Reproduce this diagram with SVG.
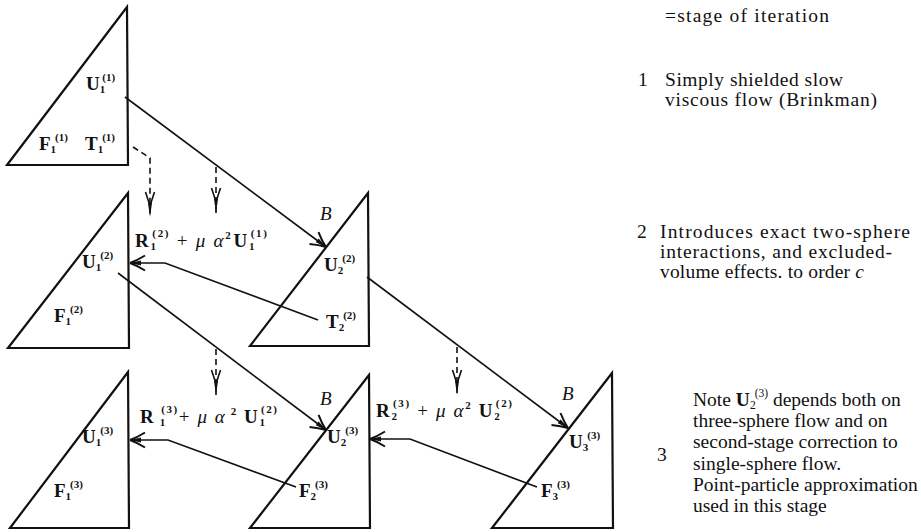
<svg xmlns="http://www.w3.org/2000/svg" width="921" height="532" viewBox="0 0 921 532">
<style>
.tri{fill:none;stroke:#111;stroke-width:2.2;stroke-linejoin:miter}
.ln{fill:none;stroke:#111;stroke-width:1.6}
.sol{marker-end:url(#ah)}
.dash{fill:none;stroke:#111;stroke-width:1.6;stroke-dasharray:6 4;marker-end:url(#dh)}
text{font-family:"Liberation Serif","Times New Roman",serif;fill:#111}
.v{font-weight:bold;font-size:19px}
.s{font-weight:bold;font-size:11px}
.n{font-weight:normal;font-size:19px}
.g{font-weight:normal;font-style:italic;font-size:19px}
.b{font-style:italic;font-size:19px}
.t{font-size:19.5px}
</style>
<defs>
<marker id="ah" viewBox="-17 -8 19 16" refX="0" refY="0" markerWidth="19" markerHeight="16" markerUnits="userSpaceOnUse" orient="auto" overflow="visible">
<path d="M0,0 Q-7,-2.5 -15,-7.5 M0,0 Q-7,2.5 -15,7.5" fill="none" stroke="#111" stroke-width="2"/>
<path d="M0,0 L-11,-2.4 L-11,2.4 Z" fill="#111"/>
</marker>
<marker id="dh" viewBox="-27 -6 29 12" refX="0" refY="0" markerWidth="29" markerHeight="12" markerUnits="userSpaceOnUse" orient="auto" overflow="visible">
<path d="M-25,-4.5 Q-15,-1.2 -11,0 M-25,4.5 Q-15,1.2 -11,0" fill="none" stroke="#111" stroke-width="1.6"/>
<path d="M0,0 L-14,-2 L-14,2 Z" fill="#111"/>
</marker>
</defs>

<g id="connectors">
<path class="ln sol" d="M125,97 L326,247"/>
<path class="ln sol" d="M318,320 L165,263 L130,263"/>
<path class="ln sol" d="M118,273 L326,430"/>
<path class="ln sol" d="M367,277 L568,428"/>
<path class="ln sol" d="M296,487 L168,440 L130,440"/>
<path class="ln sol" d="M537,487 L410,439 L370,439"/>
<path class="dash" d="M133,147 L150,158 L150,217"/>
<path class="dash" d="M216,167 L216,213"/>
<path class="dash" d="M216,349 L216,395"/>
<path class="dash" d="M457,347 L457,395"/>
</g>

<g id="connector-labels">
<text class="v" x="135" y="247" textLength="132" lengthAdjust="spacing">R<tspan class="s" dy="3">1</tspan><tspan class="s" dx="-5.5" dy="-13">(2)</tspan><tspan class="n" dy="10"> + </tspan><tspan class="g">μ α</tspan><tspan class="s" dy="-8">2</tspan><tspan dy="8" dx="1">U</tspan><tspan class="s" dy="3">1</tspan><tspan class="s" dx="-5.5" dy="-13">(1)</tspan></text>
<text class="v" x="140" y="423" textLength="137" lengthAdjust="spacing">R<tspan class="s" dy="3"> 1</tspan><tspan class="s" dx="-5.5" dy="-13">(3)</tspan><tspan class="n" dy="10">+</tspan><tspan class="g"> μ α</tspan><tspan class="s" dy="-8"> 2</tspan><tspan dy="8"> U</tspan><tspan class="s" dy="3">1</tspan><tspan class="s" dx="-5.5" dy="-13">(2)</tspan></text>
<text class="v" x="376" y="417" textLength="136" lengthAdjust="spacing">R<tspan class="s" dy="3">2</tspan><tspan class="s" dx="-5.5" dy="-13">(3)</tspan><tspan class="n" dy="10"> + </tspan><tspan class="g">μ α</tspan><tspan class="s" dy="-8">2</tspan><tspan dy="8"> U</tspan><tspan class="s" dy="3">2</tspan><tspan class="s" dx="-5.5" dy="-13">(2)</tspan></text>
</g>

<g id="node-1-1">
<polygon class="tri" points="127,7 7,165 128,165"/>
<text class="v" x="86" y="90">U<tspan class="s" dy="3">1</tspan><tspan class="s" dx="-3" dy="-12">(1)</tspan></text>
<text class="v" x="39" y="150">F<tspan class="s" dy="3">1</tspan><tspan class="s" dx="-1" dy="-12">(1)</tspan></text>
<text class="v" x="85" y="150">T<tspan class="s" dy="3">1</tspan><tspan class="s" dx="-1" dy="-12">(1)</tspan></text>
</g>

<g id="node-2-1">
<polygon class="tri" points="128,193 8,348 129,348"/>
<text class="v" x="82" y="268">U<tspan class="s" dy="3">1</tspan><tspan class="s" dx="-1" dy="-12">(2)</tspan></text>
<text class="v" x="54" y="322">F<tspan class="s" dy="3">1</tspan><tspan class="s" dx="-1" dy="-12">(2)</tspan></text>
</g>

<g id="node-2-2">
<polygon class="tri" points="368,193 250,346 369,346"/>
<text class="b" x="320" y="220">B</text>
<text class="v" x="324" y="271">U<tspan class="s" dy="3">2</tspan><tspan class="s" dx="-1" dy="-12">(2)</tspan></text>
<text class="v" x="326" y="328">T<tspan class="s" dy="3">2</tspan><tspan class="s" dx="-1" dy="-12">(2)</tspan></text>
</g>

<g id="node-3-1">
<polygon class="tri" points="128,372 10,528 129,528"/>
<text class="v" x="82" y="443">U<tspan class="s" dy="3">1</tspan><tspan class="s" dx="-1" dy="-12">(3)</tspan></text>
<text class="v" x="54" y="497">F<tspan class="s" dy="3">1</tspan><tspan class="s" dx="-1" dy="-12">(3)</tspan></text>
</g>

<g id="node-3-2">
<polygon class="tri" points="369,375 250,528 370,528"/>
<text class="b" x="320" y="405">B</text>
<text class="v" x="327" y="443">U<tspan class="s" dy="3">2</tspan><tspan class="s" dx="-1" dy="-12">(3)</tspan></text>
<text class="v" x="299" y="497">F<tspan class="s" dy="3">2</tspan><tspan class="s" dx="-1" dy="-12">(3)</tspan></text>
</g>

<g id="node-3-3">
<polygon class="tri" points="612,373 492,528 613,528"/>
<text class="b" x="562" y="400">B</text>
<text class="v" x="569" y="448">U<tspan class="s" dy="3">3</tspan><tspan class="s" dx="-1" dy="-12">(3)</tspan></text>
<text class="v" x="541" y="497">F<tspan class="s" dy="3">3</tspan><tspan class="s" dx="-1" dy="-12">(3)</tspan></text>
</g>

<g id="legend">
<text class="t" x="665" y="22" textLength="164" lengthAdjust="spacing">=stage of iteration</text>
<text class="t" x="638" y="86">1</text>
<text class="t" x="665" y="86" textLength="178" lengthAdjust="spacing">Simply shielded slow</text>
<text class="t" x="665" y="106" textLength="212" lengthAdjust="spacing">viscous flow (Brinkman)</text>
<text class="t" x="637" y="238">2</text>
<text class="t" x="660" y="238" textLength="250" lengthAdjust="spacing">Introduces exact two-sphere</text>
<text class="t" x="660" y="258" textLength="232" lengthAdjust="spacing">interactions, and excluded-</text>
<text class="t" x="660" y="278" textLength="204" lengthAdjust="spacing">volume effects. to order <tspan font-style="italic">c</tspan></text>
<text class="t" x="693" y="406">Note <tspan font-weight="bold">U</tspan><tspan font-size="11.5" dy="3">2</tspan><tspan font-size="11.5" dx="-1" dy="-12">(3)</tspan><tspan dy="9"> depends both on</tspan></text>
<text class="t" x="693" y="427">three-sphere flow and on</text>
<text class="t" x="693" y="448">second-stage correction to</text>
<text class="t" x="657" y="461">3</text>
<text class="t" x="693" y="470">single-sphere flow.</text>
<text class="t" x="693" y="491">Point-particle approximation</text>
<text class="t" x="693" y="512">used in this stage</text>
</g>
</svg>
